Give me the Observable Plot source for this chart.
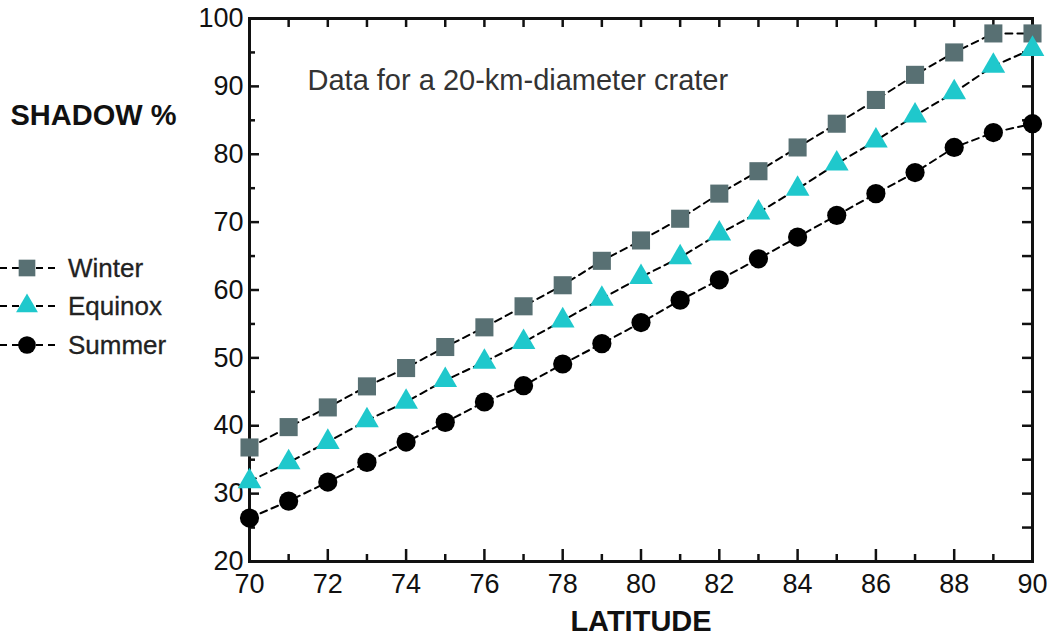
<!DOCTYPE html>
<html>
<head>
<meta charset="utf-8">
<script src="https://cdn.jsdelivr.net/npm/d3@7"></script>
<script src="https://cdn.jsdelivr.net/npm/@observablehq/plot@0.6"></script>
<style>
  html, body { margin: 0; padding: 0; background: #fff; }
  #wrap { position: relative; width: 1047px; height: 639px; font-family: "Liberation Sans", Arial, sans-serif; }
  #legend { position: absolute; left: 0; top: 0; pointer-events: none; }
</style>
</head>
<body>
<div id="wrap"></div>
<script>
// ---- data ----
const latitude = [70,71,72,73,74,75,76,77,78,79,80,81,82,83,84,85,86,87,88,89,90];
const winter  = [36.8,39.8,42.7,45.8,48.5,51.6,54.5,57.6,60.7,64.3,67.3,70.5,74.2,77.5,81.0,84.5,88.0,91.7,95.0,97.8,97.8];
const equinox = [31.8,34.6,37.6,40.8,43.5,46.7,49.4,52.3,55.5,58.7,61.9,64.8,68.3,71.4,74.9,78.6,82.0,85.7,89.1,93.0,95.5];
const summer  = [26.4,28.9,31.7,34.6,37.6,40.5,43.5,45.9,49.1,52.1,55.2,58.5,61.5,64.6,67.8,71.0,74.2,77.3,81.0,83.2,84.5];
const seriesNames = ["Winter", "Equinox", "Summer"];
const seriesValues = [winter, equinox, summer];
const xMajorTicks = [70,72,74,76,78,80,82,84,86,88,90];
const xMinorTicks = [71,73,75,77,79,81,83,85,87,89];
const yMajorTicks = [20,30,40,50,60,70,80,90,100];
const yMinorTicks = [25,35,45,55,65,75,85,95];
const yRightTicks = [25,30,35,40,45,50,55,60,65,70,75,80,85,90,95];
const xTopTicks = [71,72,73,74,75,76,77,78,79,80,81,82,83,84,85,86,87,88,89];

const symbols = {Winter: "square", Equinox: "triangle", Summer: "circle"};
const fills = {Winter: "#587073", Equinox: "#1fc8cc", Summer: "#000000"};
const radii = {Winter: 10.2, Equinox: 8.8, Summer: 9.6};

const rows = [];
seriesNames.forEach((s, i) => latitude.forEach((lat, j) => rows.push({series: s, lat, v: seriesValues[i][j]})));

const FONT = "Liberation Sans, Arial, sans-serif";
const W = 1047, H = 639, ML = 249, MR = 15, MT = 18, MB = 78;
const FW = W - ML - MR, FH = H - MT - MB;
const TS = {stroke: "#111", strokeWidth: 2.5};

const chart = Plot.plot({
  width: W,
  height: H,
  marginLeft: ML,
  marginRight: MR,
  marginTop: MT,
  marginBottom: MB,
  style: {fontFamily: FONT, color: "#111", background: "#fff", overflow: "visible"},
  x: {domain: [70, 90], axis: null},
  y: {domain: [20, 100], axis: null},
  marks: [
    // inward ticks
    Plot.ruleX(xMajorTicks, {...TS, x: d => d, insetTop: FH - 12}),
    Plot.ruleX(xMinorTicks, {...TS, x: d => d, insetTop: FH - 7}),
    Plot.ruleX(xTopTicks, {...TS, x: d => d, insetBottom: FH - 9}),
    Plot.ruleY(yMajorTicks, {...TS, y: d => d, insetRight: FW - 10}),
    Plot.ruleY(yMinorTicks, {...TS, y: d => d, insetRight: FW - 6}),
    Plot.ruleY(yRightTicks, {...TS, y: d => d, insetLeft: FW - 10}),
    // tick labels
    Plot.axisX({anchor: "bottom", ticks: xMajorTicks, tickSize: 0, tickPadding: 12, fontSize: 27, label: null, tickFormat: d => d, fill: "#111", stroke: "#111", strokeWidth: 0.5}),
    Plot.axisY({anchor: "left", ticks: yMajorTicks, tickSize: 0, tickPadding: 6, fontSize: 27, label: null, tickFormat: d => d, fill: "#111", stroke: "#111", strokeWidth: 0.5}),
    Plot.frame({stroke: "#111", strokeWidth: 3}),
    Plot.text(["LATITUDE"], {frameAnchor: "bottom", dy: 60, fontSize: 29, fontWeight: "bold", fill: "#111", lineAnchor: "middle"}),
    Plot.text(["SHADOW %"], {frameAnchor: "top-left", textAnchor: "start", dx: -239, dy: 97, fontSize: 29, fontWeight: "bold", fill: "#111", lineAnchor: "middle"}),
    Plot.text(["Data for a 20-km-diameter crater"], {frameAnchor: "top-left", textAnchor: "start", dx: 58, dy: 62, fontSize: 29, fill: "#333", lineAnchor: "middle"}),
    // lines
    Plot.line(rows, {x: "lat", y: "v", z: "series", stroke: "#000", strokeWidth: 2, strokeDasharray: "7,5"}),
    // markers
    ...seriesNames.map(s => Plot.dot(rows.filter(d => d.series === s), {
      x: "lat", y: "v", symbol: () => symbols[s], r: radii[s], fill: fills[s], stroke: "none"
    }))
  ]
});

const wrap = document.getElementById("wrap");
wrap.appendChild(chart);

// legend overlay
const legendY = {Winter: 268, Equinox: 306, Summer: 345};
const lg = d3.select(wrap).append("svg").attr("id", "legend").attr("width", 200).attr("height", 639);
seriesNames.forEach(s => {
  const g = lg.append("g").attr("transform", `translate(0,${legendY[s]})`);
  g.append("line").attr("x1", 0).attr("x2", 55).attr("y1", 0).attr("y2", 0)
    .attr("stroke", "#000").attr("stroke-width", 2).attr("stroke-dasharray", "7,5");
  const sym = s === "Winter" ? d3.symbolSquare : s === "Equinox" ? d3.symbolTriangle : d3.symbolCircle;
  g.append("path").attr("transform", "translate(27,0)")
    .attr("d", d3.symbol(sym, Math.PI * radii[s] * radii[s] * 0.85)())
    .attr("fill", fills[s]);
  g.append("text").attr("x", 68).attr("y", 0).attr("dy", "0.35em")
    .attr("font-family", FONT).attr("font-size", 26).attr("fill", "#222")
    .attr("stroke", "#222").attr("stroke-width", 0.3).text(s);
});
</script>
</body>
</html>
